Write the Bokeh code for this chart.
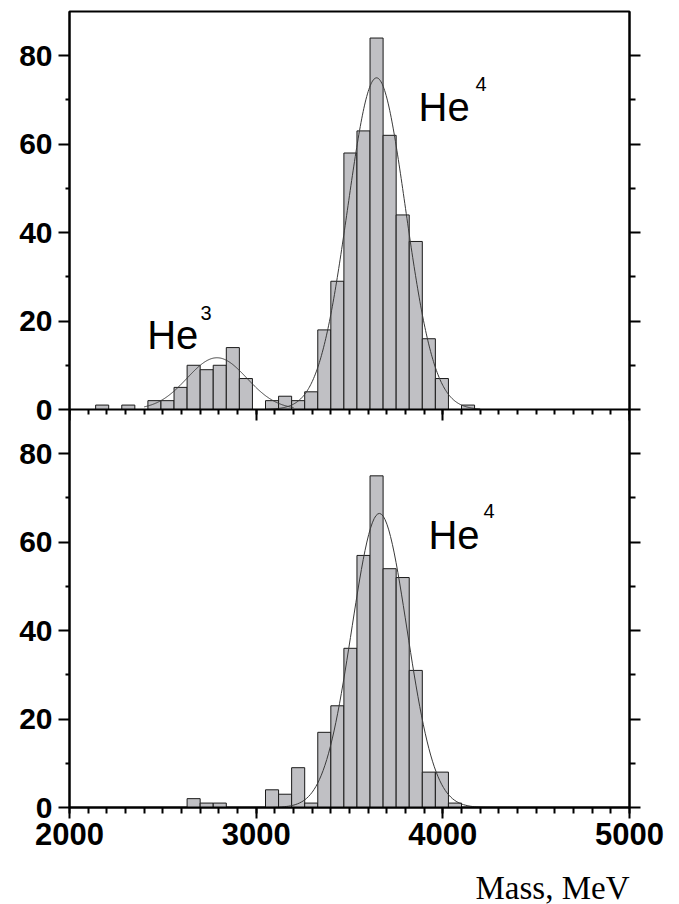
import numpy as np
from bokeh.plotting import figure
from bokeh.models import Range1d, LinearAxis, FixedTicker, Label, Title, CustomLabelingPolicy
from bokeh.embed import file_html
from bokeh.resources import INLINE

# ---------------- data ----------------
bin_width = 70  # MeV

# upper panel (He3 + He4)
top_left = [2140, 2210, 2280, 2350, 2420, 2490, 2560, 2630, 2700, 2770,
            2840, 2910, 2980, 3050, 3120, 3190, 3260, 3330, 3400, 3470,
            3540, 3610, 3680, 3750, 3820, 3890, 3960, 4030, 4100]
top_counts = [1, 0, 1, 0, 2, 2, 5, 10, 9, 10,
              14, 7, 0, 2, 3, 2, 4, 18, 29, 58,
              63, 84, 62, 44, 38, 16, 7, 0, 1]

# lower panel (He4)
bot_left = [2630, 2700, 2770, 3050, 3120, 3190, 3260, 3330, 3400, 3470,
            3540, 3610, 3680, 3750, 3820, 3890, 3960, 4030]
bot_counts = [2, 1, 1, 4, 3, 9, 1, 17, 23, 36,
              57, 75, 54, 52, 31, 8, 8, 1]

# Gaussian fits (amplitude, mean, sigma, drawn from, drawn to)
fit_top_he3 = (11.7, 2790, 160, 2400, 3200)
fit_top_he4 = (75.0, 3645, 155, 3050, 4200)
fit_bot_he4 = (66.5, 3660, 148, 2050, 4970)

x_major = [2000, 3000, 4000, 5000]
x_minor = [2000 + 100 * i for i in range(31)]
y_labels = ["0", "20", "40", "60", "80"]
y_values = [0, 20, 40, 60, 80]
y_minor_values = [10, 30, 50, 70]
panel_max = 90

# ---------------- figure ----------------
p = figure(output_backend="svg", toolbar_location=None,
           frame_width=560, frame_height=796,
           min_border_left=69, min_border_right=40,
           min_border_top=11, min_border_bottom=97,
           x_range=Range1d(2000, 5000), y_range=Range1d(0, 2 * panel_max),
           background_fill_color="white", border_fill_color="white")
p.extra_y_ranges = {"top": Range1d(-panel_max, panel_max)}
p.grid.visible = False
p.outline_line_color = "black"
p.outline_line_width = 2

fill = "#c0c0c4"
edge = "#1a1a1a"

tl = np.array(top_left, dtype=float)
p.quad(left=tl, right=tl + bin_width, bottom=0, top=top_counts,
       fill_color=fill, line_color=edge, line_width=1, y_range_name="top")
bl = np.array(bot_left, dtype=float)
p.quad(left=bl, right=bl + bin_width, bottom=0, top=bot_counts,
       fill_color=fill, line_color=edge, line_width=1)


def gauss(params):
    a, mu, s, lo, hi = params
    xx = np.linspace(lo, hi, 300)
    return xx, a * np.exp(-0.5 * ((xx - mu) / s) ** 2)


for prm, rn in [(fit_top_he3, "top"), (fit_top_he4, "top"), (fit_bot_he4, "default")]:
    xx, yy = gauss(prm)
    p.line(xx, yy, line_color="#3a3a3a", line_width=1, y_range_name=rn)

# ---------------- axes ----------------
y_ticks = y_values + [v + panel_max for v in y_values]
y_ticker = FixedTicker(ticks=y_ticks,
                       minor_ticks=y_minor_values + [v + panel_max for v in y_minor_values])
overrides = {}
for v, lab in zip(y_values, y_labels):
    overrides[v] = lab
    overrides[v + panel_max] = lab

x_ticker = FixedTicker(ticks=x_major, minor_ticks=x_minor)

tick_font = "Liberation Sans"


def no_labels():
    return CustomLabelingPolicy(code="for (const i of indices) { indices.unset(i) }\nreturn indices")


ya = p.yaxis[0]
ya.ticker = y_ticker
ya.major_label_overrides = overrides
ya.major_tick_out = 11
ya.major_tick_in = 0
ya.minor_tick_out = 4
ya.minor_tick_in = 0
ya.major_tick_line_width = 2
ya.minor_tick_line_width = 2
ya.axis_line_width = 2
ya.major_label_standoff = 6
ya.major_label_text_font = tick_font
ya.major_label_text_font_size = "30px"
ya.major_label_text_font_style = "bold"
ya.major_label_text_color = "black"

xa = p.xaxis[0]
xa.ticker = x_ticker
xa.major_tick_out = 11
xa.major_tick_in = 0
xa.minor_tick_out = 6
xa.minor_tick_in = 0
xa.major_tick_line_width = 2
xa.minor_tick_line_width = 2
xa.axis_line_width = 2
xa.major_label_standoff = 4
xa.major_label_text_font = tick_font
xa.major_label_text_font_size = "31px"
xa.major_label_text_font_style = "bold"
xa.major_label_text_color = "black"

# right axis: ticks only
ra = LinearAxis(ticker=y_ticker, major_label_policy=no_labels(),
                major_tick_out=11, major_tick_in=0, minor_tick_out=6, minor_tick_in=0,
                major_tick_line_width=2, minor_tick_line_width=2, axis_line_width=2)
p.add_layout(ra, "right")

# axis between the two panels (x axis of the upper panel)
ma = LinearAxis(ticker=x_ticker, fixed_location=panel_max,
                major_label_policy=no_labels(),
                major_tick_out=11, major_tick_in=0, minor_tick_out=5, minor_tick_in=0,
                major_tick_line_width=2, minor_tick_line_width=2, axis_line_width=2)
p.add_layout(ma, "below")

# ---------------- annotations ----------------
he_font = "Liberation Sans"
p.add_layout(Label(x=2416, y=16.8, y_range_name="top", text="He", text_font=he_font,
                   text_font_size="40px", text_baseline="alphabetic", text_color="black"))
p.add_layout(Label(x=2702, y=21.9, y_range_name="top", text="3", text_font=he_font,
                   text_font_size="20px", text_baseline="alphabetic", text_color="black"))
p.add_layout(Label(x=3870, y=68.5, y_range_name="top", text="He", text_font=he_font,
                   text_font_size="40px", text_baseline="alphabetic", text_color="black"))
p.add_layout(Label(x=4175, y=73.6, y_range_name="top", text="4", text_font=he_font,
                   text_font_size="20px", text_baseline="alphabetic", text_color="black"))
p.add_layout(Label(x=3923, y=61.6, text="He", text_font=he_font,
                   text_font_size="40px", text_baseline="alphabetic", text_color="black"))
p.add_layout(Label(x=4218, y=67.1, text="4", text_font=he_font,
                   text_font_size="20px", text_baseline="alphabetic", text_color="black"))

p.add_layout(Title(text="Mass, MeV", align="right", text_font="Liberation Serif",
                   text_font_size="33px", text_font_style="normal", text_color="black",
                   standoff=40), "below")

open("out.html", "w").write(file_html(p, INLINE))
